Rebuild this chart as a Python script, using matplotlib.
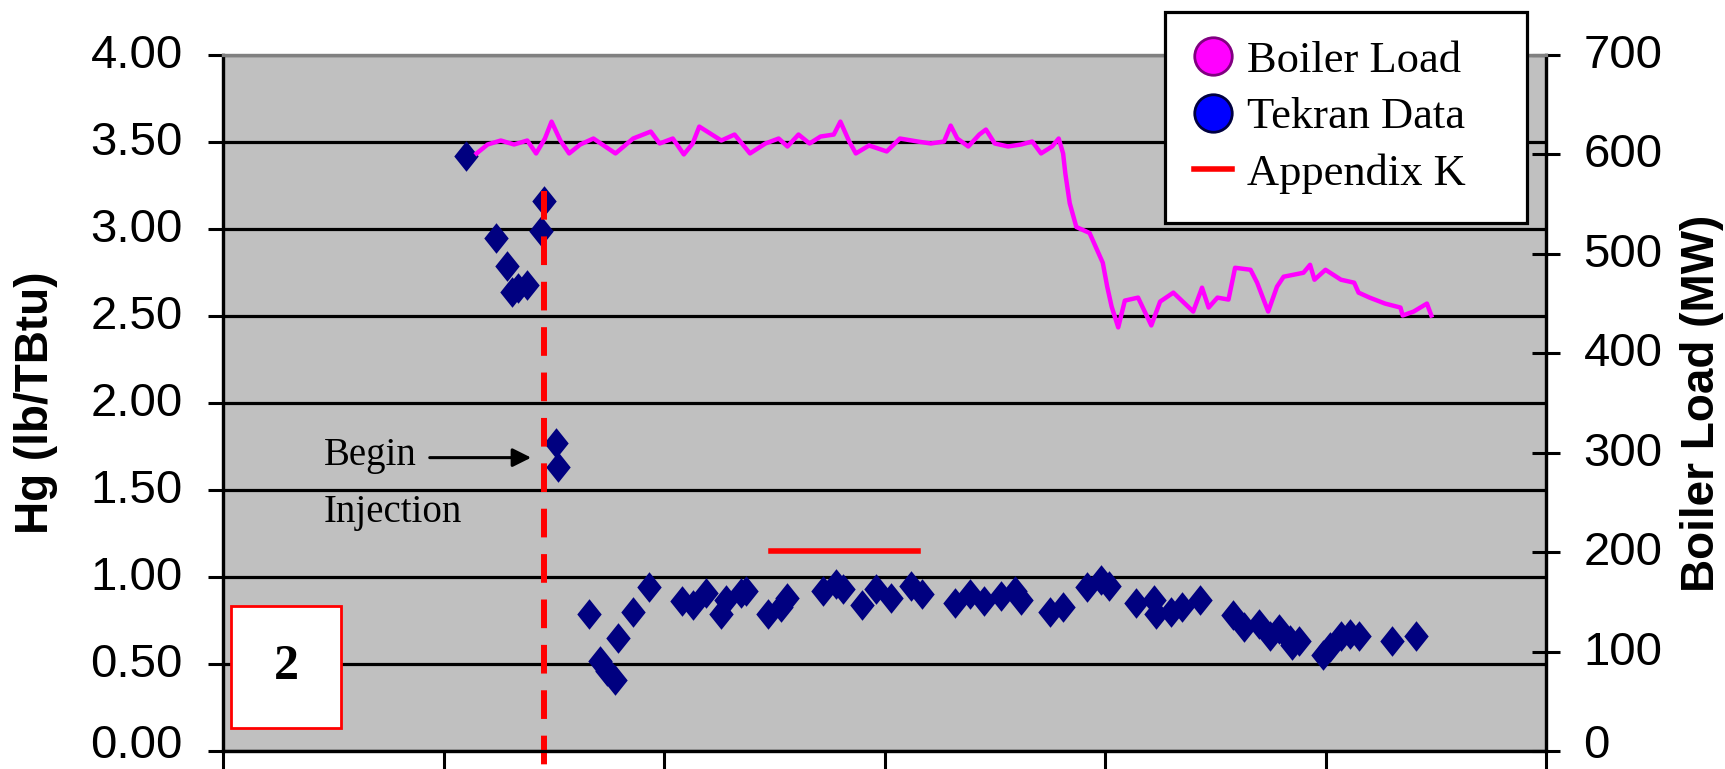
import matplotlib
matplotlib.use("Agg")
import matplotlib.pyplot as plt
from matplotlib.lines import Line2D
from matplotlib.patches import Rectangle
from matplotlib.transforms import ScaledTranslation

# boiler load (MW), right axis
load_x = [1.15, 1.20, 1.26, 1.32, 1.38, 1.42, 1.46, 1.49, 1.53, 1.57,
          1.62, 1.68, 1.78, 1.86, 1.94, 1.98, 2.04, 2.09, 2.13, 2.16,
          2.21, 2.26, 2.32, 2.39, 2.46, 2.52, 2.56, 2.61, 2.66, 2.71,
          2.77, 2.80, 2.84, 2.87, 2.93, 3.01, 3.07, 3.15, 3.21, 3.27,
          3.30, 3.33, 3.38, 3.43, 3.46, 3.50, 3.56, 3.62, 3.67, 3.71,
          3.76, 3.79, 3.81, 3.82, 3.84, 3.87, 3.93, 3.96, 3.99, 4.01,
          4.03, 4.06, 4.09, 4.15, 4.21, 4.25, 4.31, 4.40, 4.44, 4.47,
          4.51, 4.56, 4.59, 4.66, 4.69, 4.74, 4.78, 4.81, 4.90, 4.93,
          4.95, 5.00, 5.07, 5.13, 5.15, 5.20, 5.27, 5.34, 5.35, 5.40,
          5.46, 5.48]
load_mw = [601, 610, 614, 610, 614, 601, 616, 633, 614, 601,
           610, 616, 601, 616, 623, 611, 616, 600, 611, 628,
           621, 614, 620, 601, 611, 616, 608, 620, 611, 618,
           620, 633, 613, 601, 609, 603, 616, 613, 611, 613,
           629, 616, 608, 620, 625, 611, 608, 610, 613, 601,
           608, 616, 601, 581, 551, 527, 521, 506, 491, 467,
           447, 426, 453, 456, 428, 452, 461, 442, 466, 446,
           456, 454, 486, 484, 471, 442, 467, 477, 481, 489,
           474, 484, 474, 471, 461, 456, 450, 446, 438, 442,
           450, 438]

# Tekran mercury readings (lb/TBtu), left axis
tek_x = [1.10, 1.24, 1.29, 1.31, 1.34, 1.38, 1.44, 1.455, 1.51, 1.52,
         1.66, 1.71, 1.74, 1.78, 1.79, 1.86, 1.93, 2.08, 2.13, 2.19,
         2.26, 2.28, 2.35, 2.37, 2.47, 2.53, 2.56, 2.72, 2.78, 2.81,
         2.90, 2.96, 3.03, 3.12, 3.17, 3.32, 3.39, 3.45, 3.53, 3.59,
         3.62, 3.75, 3.81, 3.92, 3.98, 4.02, 4.14, 4.22, 4.23, 4.30,
         4.35, 4.43, 4.58, 4.63, 4.70, 4.75, 4.79, 4.84, 4.85, 4.88,
         4.99, 5.02, 5.07, 5.11, 5.15, 5.30, 5.41]
tek_hg = [3.42, 2.95, 2.79, 2.64, 2.66, 2.68, 2.99, 3.16, 1.77, 1.63,
          0.79, 0.52, 0.46, 0.41, 0.65, 0.80, 0.94, 0.86, 0.84, 0.91,
          0.79, 0.87, 0.91, 0.92, 0.79, 0.83, 0.88, 0.92, 0.96, 0.93,
          0.84, 0.93, 0.88, 0.95, 0.90, 0.85, 0.90, 0.86, 0.89, 0.92,
          0.87, 0.80, 0.83, 0.94, 0.98, 0.95, 0.85, 0.87, 0.79, 0.80,
          0.83, 0.87, 0.78, 0.71, 0.73, 0.66, 0.70, 0.64, 0.61, 0.63,
          0.55, 0.60, 0.66, 0.67, 0.66, 0.63, 0.66]

# injection start and appendix K level
inj_x = 1.455
inj_top = 3.22
appk_x = [2.485, 3.152]
appk_hg = 1.15

left_ticks = [0.0, 0.5, 1.0, 1.5, 2.0, 2.5, 3.0, 3.5, 4.0]
right_ticks = [0, 100, 200, 300, 400, 500, 600, 700]
x_ticks = [0, 1, 2, 3, 4, 5, 6]

W, H = 1725, 769
fig = plt.figure(figsize=(W / 100, H / 100), dpi=100)
ax = fig.add_axes([223 / W, (H - 751) / H, 1323 / W, 696 / H])
ax.set_facecolor("#C0C0C0")

ax.set_xlim(0, 6)
ax.set_ylim(0, 4)
ax.set_xticks(x_ticks)
ax.set_yticks(left_ticks)
ax.set_yticklabels([f"{t:.2f}" for t in left_ticks])
ax.yaxis.grid(True, color="black", lw=2.3)
ax.set_axisbelow(True)

tick_font = ["Liberation Sans Narrow", "Liberation Sans"]
ax.tick_params(axis="y", direction="out", length=11, width=2.2,
               labelsize=34, pad=18)
ax.tick_params(axis="x", direction="out", length=16, width=2.2,
               labelbottom=False)

ax.scatter(tek_x, tek_hg, marker=[(0, 1), (0.8, 0), (0, -1), (-0.8, 0)],
           s=22 ** 2, color="#000080", lw=0, zorder=3)

ax.plot([inj_x, inj_x], [inj_top, -0.1], color="red", lw=4.3,
        dashes=(4.8, 2.8), clip_on=False, zorder=4)
ax.plot(appk_x, [appk_hg, appk_hg], color="red", lw=4, zorder=4)

ax.annotate("", xy=(1.41, 1.686), xytext=(0.925, 1.686),
            arrowprops=dict(arrowstyle="-|>", color="black", lw=2.2,
                            mutation_scale=28))
ax.text(0.458, 1.644, "Begin", family="Liberation Serif", fontsize=28,
        va="baseline")
ax.text(0.458, 1.318, "Injection", family="Liberation Serif", fontsize=28,
        va="baseline")

ax.add_patch(Rectangle((0.036, 0.132), 0.5, 0.70, facecolor="white",
                       edgecolor="red", lw=2, zorder=5))
ax.text(0.286, 0.48, "2", family="Liberation Serif", fontweight="bold",
        fontsize=36, ha="center", va="center", zorder=6)

ax.set_ylabel("Hg (lb/TBtu)", fontsize=33, fontweight="bold",
              family="Liberation Sans", va="center")
ax.yaxis.set_label_coords(-0.1417, 0.5)

ax2 = ax.twinx()
ax2.set_ylim(0, 700)
ax2.set_yticks(right_ticks)
ax2.tick_params(axis="y", direction="inout", length=20, width=2.2,
                labelsize=34, pad=17)
ax2.plot(load_x, load_mw, color="#FF00FF", lw=3.2)
ax2.set_ylabel("Boiler Load (MW)", fontsize=33, fontweight="bold",
               family="Liberation Sans", va="center")
ax2.yaxis.set_label_coords(1.1179, 0.5)

# tick labels sit a little above their ticks; the zero labels touch the bottom edge
lift = ScaledTranslation(0, 4 / 100, fig.dpi_scale_trans)
drop = ScaledTranslation(0, -17 / 100, fig.dpi_scale_trans)
for a in (ax, ax2):
    labs = a.get_yticklabels()
    for lab in labs[1:]:
        lab.set_family(tick_font)
        lab.set_transform(lab.get_transform() + lift)
    labs[0].set_family(tick_font)
    labs[0].set_va("bottom")
    labs[0].set_transform(labs[0].get_transform() + drop)

for a in (ax, ax2):
    for s in a.spines.values():
        s.set_linewidth(2.3)
        s.set_color("black")
    a.spines["top"].set_color("#808080")

handles = [
    Line2D([], [], ls="none", marker="o", ms=27, mfc="#FF00FF",
           mec="#800080", mew=2),
    Line2D([], [], ls="none", marker="o", ms=27, mfc="#0000FF",
           mec="#000040", mew=2),
    Line2D([], [], color="red", lw=4),
]
leg = ax2.legend(handles, ["Boiler Load", "Tekran Data", "Appendix K"],
                 loc="upper left",
                 bbox_to_anchor=(1165 / W, (H - 217) / H, 362 / W, 205 / H),
                 bbox_transform=fig.transFigure, mode="expand",
                 frameon=True, fancybox=False, framealpha=1,
                 edgecolor="black",
                 prop={"family": "Liberation Serif", "size": 32},
                 handlelength=0.85, handletextpad=0.35, borderpad=0.65,
                 labelspacing=0.36, borderaxespad=0)
leg.get_frame().set_linewidth(2.3)
leg.set_zorder(10)

fig.savefig("out.png", dpi=100)
